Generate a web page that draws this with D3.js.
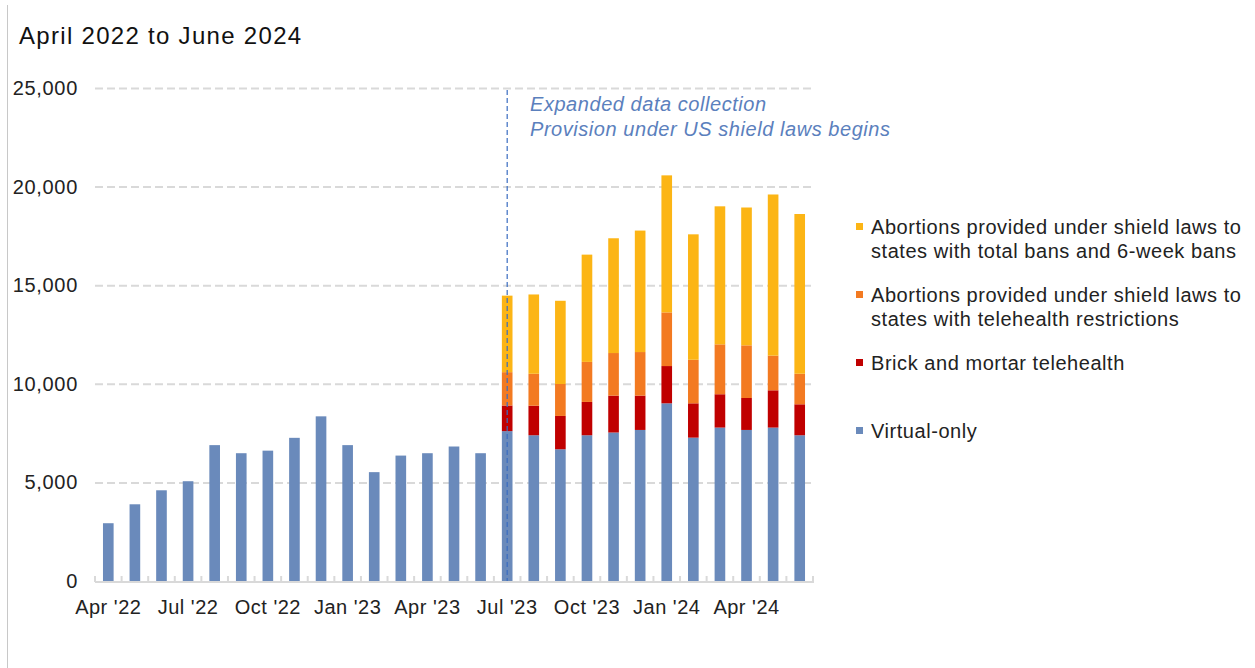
<!DOCTYPE html>
<html>
<head>
<meta charset="utf-8">
<script src="https://cdn.jsdelivr.net/npm/d3@7"></script>
<style>
  body { margin: 0; background: #fff; }
  svg { display: block; }
</style>
</head>
<body>
<svg id="svg"></svg>
<script>
// months Apr 2022 .. Jun 2024
const months = ['2022-04','2022-05','2022-06','2022-07','2022-08','2022-09','2022-10','2022-11','2022-12',
  '2023-01','2023-02','2023-03','2023-04','2023-05','2023-06','2023-07','2023-08','2023-09','2023-10',
  '2023-11','2023-12','2024-01','2024-02','2024-03','2024-04','2024-05','2024-06']
const tickMonths = ['2022-04','2022-07','2022-10','2023-01','2023-04','2023-07','2023-10','2024-01','2024-04']
const tickLabels = ["Apr '22","Jul '22","Oct '22","Jan '23","Apr '23","Jul '23","Oct '23","Jan '24","Apr '24"]
const yTicks = [0, 5000, 10000, 15000, 20000, 25000]

const virtualOnly = [2930, 3890, 4600, 5060, 6890, 6480, 6610, 7260, 8350, 6890, 5520, 6360, 6480, 6820, 6480,
  7600, 7390, 6680, 7390, 7530, 7660, 9010, 7270, 7780, 7660, 7780, 7390]
const brickMortar = [0, 0, 0, 0, 0, 0, 0, 0, 0, 0, 0, 0, 0, 0, 0,
  1300, 1500, 1690, 1690, 1870, 1740, 1890, 1740, 1690, 1620, 1890, 1570]
const shieldTelehealth = [0, 0, 0, 0, 0, 0, 0, 0, 0, 0, 0, 0, 0, 0, 0,
  1690, 1620, 1620, 2030, 2160, 2210, 2720, 2210, 2530, 2670, 1760, 1550]
const shieldBans = [0, 0, 0, 0, 0, 0, 0, 0, 0, 0, 0, 0, 0, 0, 0,
  3880, 4020, 4220, 5440, 5820, 6160, 6950, 6360, 7000, 6990, 8170, 8100]

const seriesKeys = ['virtual', 'brick', 'tele', 'bans']
const colors = { virtual: '#6a8abb', brick: '#c00000', tele: '#f37a21', bans: '#fcb515' }
const legendItems = [
  { key: 'bans', lines: ['Abortions provided under shield laws to', 'states with total bans and 6-week bans'], y: 227 },
  { key: 'tele', lines: ['Abortions provided under shield laws to', 'states with telehealth restrictions'], y: 295 },
  { key: 'brick', lines: ['Brick and mortar telehealth'], y: 363 },
  { key: 'virtual', lines: ['Virtual-only'], y: 431 }
]

const font = 'Liberation Sans, Arial, sans-serif'
const svg = d3.select('#svg').attr('width', 1255).attr('height', 668)

// left frame line
svg.append('line')
  .attr('x1', 7.5).attr('x2', 7.5).attr('y1', 5).attr('y2', 668)
  .attr('stroke', '#c8c8c8').attr('stroke-width', 1)

svg.append('text')
  .text('April 2022 to June 2024')
  .attr('font-family', font).attr('font-size', 24)
  .attr('letter-spacing', 1.3)
  .attr('fill', '#111')
  .attr('x', 19).attr('y', 44)

const rows = months.map((m, i) => ({
  month: m, virtual: virtualOnly[i], brick: brickMortar[i], tele: shieldTelehealth[i], bans: shieldBans[i]
}))

const x = d3.scaleBand().domain(months).range([95, 813]).paddingInner(0.6).paddingOuter(0.3)
const y = d3.scaleLinear().domain([0, 25000]).range([581, 88])

// gridlines
const grid = svg.append('g').attr('transform', 'translate(95,0)')
  .call(d3.axisLeft(y).tickValues(yTicks.slice(1)).tickSize(-720).tickFormat(''))
grid.select('.domain').remove()
grid.selectAll('line').attr('stroke', '#d9d9d9').attr('stroke-width', 2).attr('stroke-dasharray', '8,4')

// y labels
svg.append('g').selectAll('text').data(yTicks).join('text')
  .text(d => d3.format(',')(d))
  .attr('font-family', font).attr('font-size', 20).attr('fill', '#222')
  .attr('letter-spacing', 0.7)
  .attr('text-anchor', 'end')
  .attr('x', 78).attr('y', d => y(d) + 7)

// stacked bars
const stacked = d3.stack().keys(seriesKeys)(rows)
svg.append('g').selectAll('g').data(stacked).join('g')
  .attr('fill', s => colors[s.key])
  .selectAll('rect').data(s => s).join('rect')
  .attr('x', d => x(d.data.month))
  .attr('width', x.bandwidth())
  .attr('y', d => y(d[1]))
  .attr('height', d => y(d[0]) - y(d[1]))

// x axis line and ticks between categories
svg.append('line')
  .attr('x1', 95).attr('x2', 814).attr('y1', 582).attr('y2', 582)
  .attr('stroke', '#d9d9d9').attr('stroke-width', 2)
const bounds = months.map(m => x(m) - x.step() * 0.3).concat([813])
svg.append('g').selectAll('line').data(bounds).join('line')
  .attr('x1', d => d).attr('x2', d => d).attr('y1', 576).attr('y2', 582)
  .attr('stroke', '#d9d9d9').attr('stroke-width', 2)

// x labels
svg.append('g').selectAll('text').data(tickMonths).join('text')
  .text((d, i) => tickLabels[i])
  .attr('font-family', font).attr('font-size', 20).attr('fill', '#222')
  .attr('letter-spacing', 0.5)
  .attr('text-anchor', 'middle')
  .attr('x', d => x(d) + x.bandwidth() / 2).attr('y', 614)

// annotation line
const jul23 = x('2023-07') + x.bandwidth() / 2
svg.append('line')
  .attr('x1', jul23).attr('x2', jul23).attr('y1', 90).attr('y2', 581)
  .attr('stroke', '#3a6cc0').attr('stroke-width', 1.2).attr('stroke-dasharray', '5,3')

svg.append('g').selectAll('text')
  .data(['Expanded data collection', 'Provision under US shield laws begins']).join('text')
  .text(d => d)
  .attr('font-family', font).attr('font-size', 20).attr('font-style', 'italic')
  .attr('letter-spacing', 0.55)
  .attr('fill', '#5b80bd')
  .attr('x', 530).attr('y', (d, i) => 111 + i * 25)

// legend
const legend = svg.append('g')
legendItems.forEach(item => {
  legend.append('rect')
    .attr('x', 856).attr('y', item.y - 4).attr('width', 7).attr('height', 7)
    .attr('fill', colors[item.key])
  item.lines.forEach((line, j) => {
    legend.append('text')
      .text(line)
      .attr('font-family', font).attr('font-size', 20).attr('fill', '#222')
      .attr('letter-spacing', 0.55)
      .attr('x', 871).attr('y', item.y + 7 + j * 24)
  })
})
</script>
</body>
</html>
